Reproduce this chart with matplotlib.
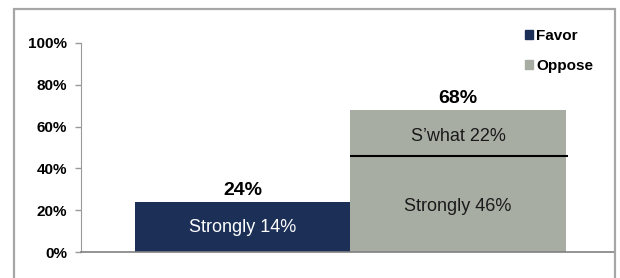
import matplotlib
matplotlib.use('Agg')
import matplotlib.pyplot as plt
from matplotlib.patches import Patch, Rectangle

plt.rcParams['font.family'] = ['Liberation Sans', 'DejaVu Sans']

groups = ['Favor', 'Oppose']
totals = [24, 68]
strongly = [14, 46]
somewhat = [0, 22]
favor_color = '#1b2f57'
oppose_color = '#a8ada4'
yticks = [0, 20, 40, 60, 80, 100]

fig = plt.figure(figsize=(6.2, 2.78), dpi=100)
ax = fig.add_axes([81/620, 1 - 252/278, 534/620, 209/278])

xs = [0, 1]
# bar 0: favor (single block), bar 1: oppose (strongly + somewhat)
ax.bar(xs[0], totals[0], width=1, color=favor_color)
ax.bar(xs[1], totals[1], width=1, color=oppose_color)
ax.hlines(strongly[1], 0.5, 1.51, color='black', lw=1.5)

ax.text(xs[0], totals[0] + 1.5, f'{totals[0]}%', ha='center', va='bottom',
        fontsize=14, fontweight='bold')
ax.text(xs[1], totals[1] + 1.5, f'{totals[1]}%', ha='center', va='bottom',
        fontsize=14, fontweight='bold')
ax.text(xs[0], 11.5, f'Strongly {strongly[0]}%', ha='center', va='center',
        fontsize=13, color='white')
ax.text(xs[1], 21.8, f'Strongly {strongly[1]}%', ha='center', va='center',
        fontsize=13, color='#1a1a1a')
ax.text(xs[1], 55.5, f'S\u2019what {somewhat[1]}%', ha='center', va='center',
        fontsize=13, color='#1a1a1a')

ax.set_xlim(-0.751, 1.728)
ax.set_ylim(0, 100)
ax.set_yticks(yticks)
ax.set_yticklabels([f'{t}%' for t in yticks], fontsize=11, fontweight='bold')
ax.set_xticks([])
ax.tick_params(axis='y', length=4, width=1, color='#999999', pad=6)
ax.spines['top'].set_visible(False)
ax.spines['right'].set_visible(False)
ax.spines['left'].set_color('#999999')
ax.spines['bottom'].set_color('#808080')
ax.spines['bottom'].set_linewidth(1.2)

handles = [Patch(color=favor_color), Patch(color=oppose_color)]
fig.legend(handles, groups, loc='upper left', bbox_to_anchor=(525/620, 1 - 29/278),
           frameon=False, handlelength=0.55, handleheight=0.55, handletextpad=0.2,
           labelspacing=1.05, borderaxespad=0, borderpad=0,
           prop={'size': 11, 'weight': 'bold'})

frame = Rectangle((14/620, -0.1), (615 - 14)/620, 1.1 - 9/278, transform=fig.transFigure,
                  fill=False, edgecolor='#a6a6a6', lw=1.6)
fig.patches.append(frame)

fig.savefig('out.png', dpi=100)
